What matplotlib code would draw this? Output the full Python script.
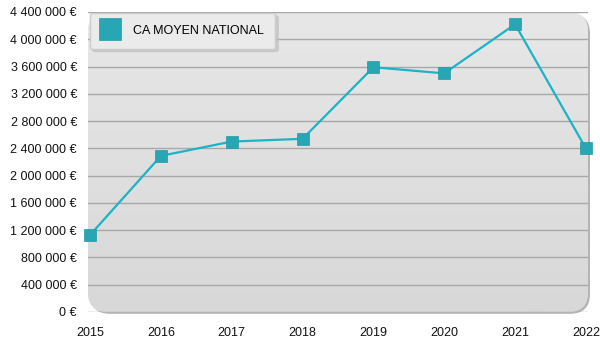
import matplotlib
matplotlib.use("Agg")
import matplotlib.pyplot as plt
import numpy as np
from matplotlib.patches import FancyBboxPatch
from matplotlib.ticker import FuncFormatter

plt.rcParams['font.family'] = ['Liberation Sans', 'DejaVu Sans']

annees = [2015, 2016, 2017, 2018, 2019, 2020, 2021, 2022]
ca_moyen = [1130000, 2290000, 2500000, 2540000, 3590000, 3500000, 4220000, 2400000]
serie = 'CA MOYEN NATIONAL'

fig = plt.figure(figsize=(6, 3.5), dpi=100)
ax = fig.add_axes([88/600, 1 - 312/350, 500/600, 300/350])
ax.set_xlim(2014.97, 2022.03)
ax.set_ylim(0, 4400000)
ax.patch.set_visible(False)
for s in ax.spines.values():
    s.set_visible(False)

# shadow + rounded background
shadow = FancyBboxPatch((0.004, -0.006), 1.0, 1.0, boxstyle="round,pad=0,rounding_size=0.04",
                        transform=ax.transAxes, facecolor='#b4b4b4', edgecolor='none',
                        zorder=0, mutation_aspect=500/300, clip_on=False)
ax.add_patch(shadow)
bg = FancyBboxPatch((0, 0), 1, 1, boxstyle="round,pad=0,rounding_size=0.04",
                    transform=ax.transAxes, facecolor='#e0e0e0', edgecolor='none',
                    zorder=0.5, mutation_aspect=500/300, clip_on=False)
ax.add_patch(bg)
grad = np.linspace(0, 1, 256).reshape(-1, 1)
im = ax.imshow(grad, cmap=matplotlib.colors.LinearSegmentedColormap.from_list('g', ['#d8d8d8', '#e7e7e7']),
               extent=[0, 1, 0, 1], transform=ax.transAxes, aspect='auto', origin='lower', zorder=0.6)
im.set_clip_path(bg)

ax.yaxis.set_major_locator(plt.MultipleLocator(400000))
ax.set_xticks(annees)
ax.grid(axis='y', color='#a8a8a8', linewidth=1.0, zorder=1)
ax.grid(axis='x', visible=False)
ax.set_axisbelow(False)
for gl in ax.get_ygridlines():
    gl.set_zorder(1)

def fmt(v, pos):
    return '{:,.0f} €'.format(v).replace(',', ' ')
ax.yaxis.set_major_formatter(FuncFormatter(fmt))
ax.tick_params(axis='both', length=0, labelsize=9, colors='#111111')
ax.tick_params(axis='y', pad=8)
ax.tick_params(axis='x', pad=11)

ax.plot(annees, ca_moyen, color='#1ab4c6', linewidth=1.6, marker='s', markersize=8,
        markerfacecolor='#27a6b3', markeredgecolor='#2399a6', markeredgewidth=0.5,
        label=serie, zorder=3, clip_on=False)

leg = ax.legend(loc='upper left', bbox_to_anchor=(0.003, 0.997), borderaxespad=0,
                fancybox=True, shadow={'color': '#c0c0c0', 'alpha': 0.7}, facecolor='#ebebeb',
                edgecolor='#cccccc', framealpha=1, fontsize=9, handlelength=1.3,
                handletextpad=1.2, borderpad=0.95, markerscale=1.9, numpoints=1)
for h in leg.legend_handles:
    h.set_linestyle('none')
leg.set_zorder(5)

fig.savefig('out.png', dpi=100)
